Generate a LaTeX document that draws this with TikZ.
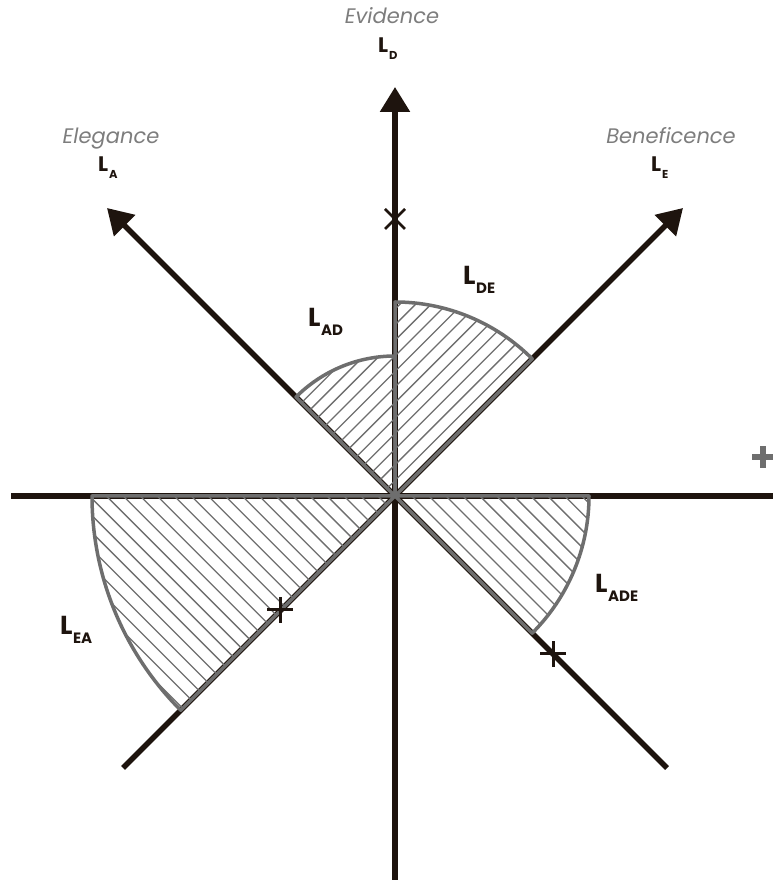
\documentclass[tikz,border=0pt]{standalone}
\usepackage{fontspec}
\setmainfont{Poppins}
\usetikzlibrary{arrows.meta,calc}
\definecolor{ink}{RGB}{30,20,14}
\definecolor{gry}{RGB}{110,110,110}
\definecolor{txtgray}{RGB}{125,125,125}
\newcommand{\axlab}[1]{{\fontsize{21}{21}\selectfont\bfseries L}\kern1pt\raisebox{-7pt}{\fontsize{11.5}{11.5}\selectfont\bfseries #1}}
\newcommand{\rglab}[1]{{\fontsize{26}{26}\selectfont\bfseries L}\kern0.5pt\raisebox{-9pt}{\fontsize{15}{15}\selectfont\bfseries #1}}
\begin{document}
\begin{tikzpicture}[x=1pt,y=1pt,
  axisline/.style={draw=ink,line width=5.5pt},
  arrowed/.style={-{Triangle[length=25pt,width=29pt]}},
  bound/.style={draw=gry,line width=3.5pt,line join=round},
  hatch/.style={draw=gry,line width=1.3pt},
  tick/.style={draw=ink,line width=3pt},
  axname/.style={text=txtgray,font=\itshape\fontsize{21}{21}\selectfont,inner sep=0pt,anchor=base},
  lab/.style={text=ink,inner sep=0pt,anchor=base west}]
\useasboundingbox (0,0) rectangle (773,880);
% coordinates
\coordinate (O) at (395,384);
\coordinate (Dtip) at (395,793);
\coordinate (Dend) at (395,0);
\coordinate (Hl) at (11,384);
\coordinate (Hr) at (773,384);
\coordinate (Atip) at (107,672);
\coordinate (Etip) at (683,672);
\coordinate (SW) at (123,112);
\coordinate (SE) at (667,112);
% axes
\draw[axisline] (Hl) -- (Hr);
\draw[axisline,arrowed] (Dend) -- (Dtip);
\draw[axisline,arrowed] (SE) -- (Atip);
\draw[axisline,arrowed] (SW) -- (Etip);
% sector DE
\begin{scope}
\clip (O) -- ++(45:194) arc[start angle=45,end angle=90,radius=194] -- cycle;
\foreach \i in {-40,...,40}{\draw[hatch] ($(O)+(-7.78*\i-400,7.78*\i-400)$) -- ++(800,800);}
\end{scope}
\draw[bound] (O) -- ++(45:194) arc[start angle=45,end angle=90,radius=194] -- cycle;
% sector AD
\begin{scope}
\clip (O) -- ++(90:140) arc[start angle=90,end angle=135,radius=140] -- cycle;
\foreach \i in {-40,...,40}{\draw[hatch] ($(O)+(-7.78*\i-400,7.78*\i-400)$) -- ++(800,800);}
\end{scope}
\draw[bound] (O) -- ++(90:140) arc[start angle=90,end angle=135,radius=140] -- cycle;
% sector EA
\begin{scope}
\clip (O) -- ++(180:303) arc[start angle=180,end angle=225,radius=303] -- cycle;
\foreach \i in {-40,...,40}{\draw[hatch] ($(O)+(8.49*\i-400,8.49*\i+400)$) -- ++(800,-800);}
\end{scope}
\draw[bound] (O) -- ++(180:303) arc[start angle=180,end angle=225,radius=303] -- cycle;
% sector ADE
\begin{scope}
\clip (O) -- ++(-45:194) arc[start angle=-45,end angle=0,radius=194] -- cycle;
\foreach \i in {-40,...,40}{\draw[hatch] ($(O)+(8.49*\i-400,8.49*\i+400)$) -- ++(800,-800);}
\end{scope}
\draw[bound] (O) -- ++(-45:194) arc[start angle=-45,end angle=0,radius=194] -- cycle;
% marks
\draw[tick,line width=2.5pt] (385,651) -- (405,671) (385,671) -- (405,651);
\draw[tick] (267,270) -- (293,270) (280,257) -- (280,283);
\draw[tick] (540,226) -- (566,226) (553,213) -- (553,239);
\draw[draw=gry,line width=6pt] (752,423) -- (773,423) (763,412) -- (763,434);
% axis names
\node[axname] (evid) at (392,856) {Evidence};
\node[axname] (eleg) at (111,736) {Elegance};
\node[axname] (bene) at (671,736) {Beneficence};
\node[lab] (LD) at (378,827) {\axlab{D}};
\node[lab] (LA) at (98,708) {\axlab{A}};
\node[lab] (LE) at (651,708) {\axlab{E}};
% region labels
\node[lab] (LDE) at (463,595) {\rglab{DE}};
\node[lab] (LAD) at (308,553) {\rglab{AD}};
\node[lab] (LEA) at (60,245) {\rglab{EA}};
\node[lab] (LADE) at (595,287) {\rglab{ADE}};
\end{tikzpicture}
\end{document}
